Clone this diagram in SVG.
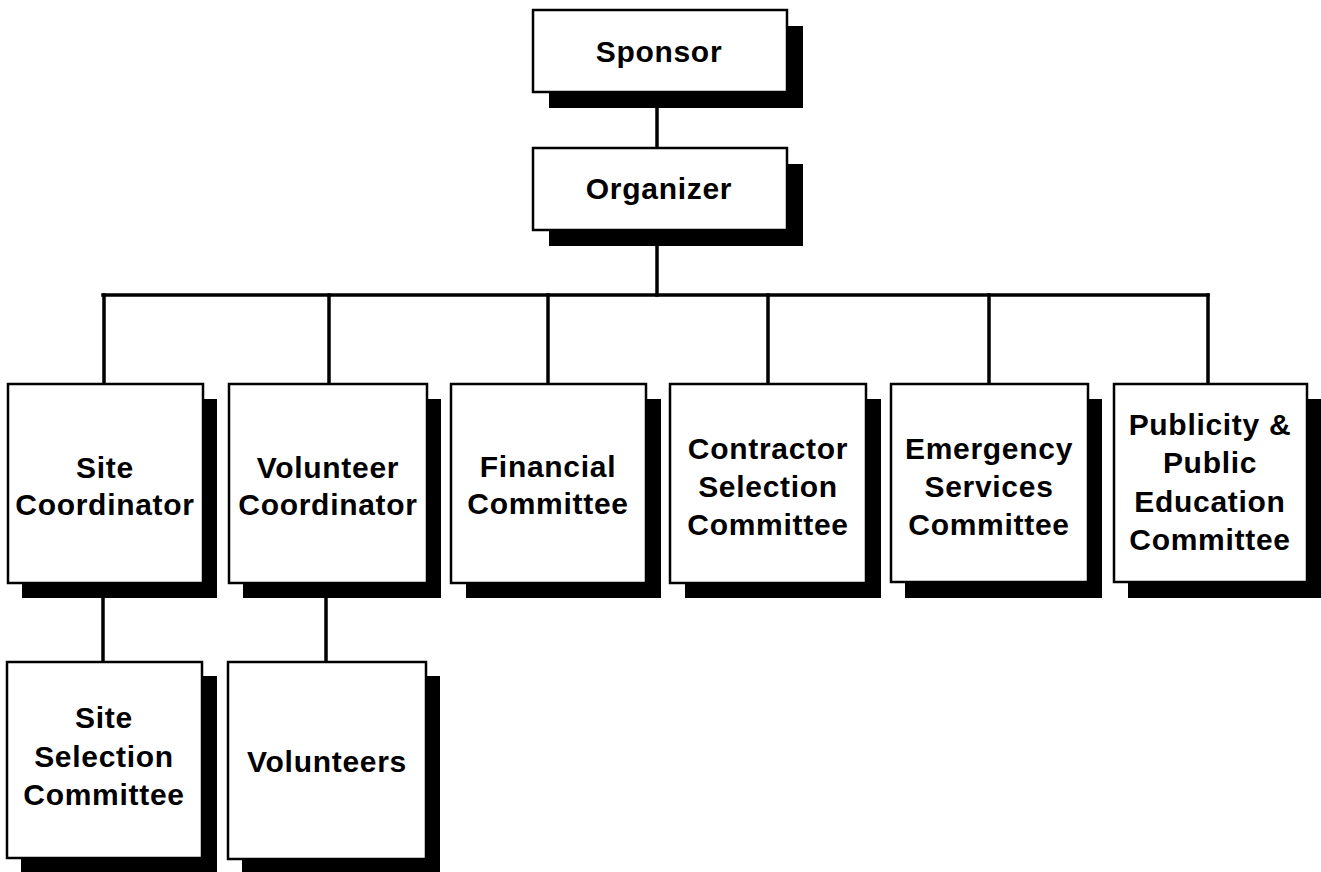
<svg xmlns="http://www.w3.org/2000/svg" width="1321" height="872" viewBox="0 0 1321 872">
  <style>
    .shadow { fill: #000; }
    .box { fill: #fff; stroke: #000; stroke-width: 2.5; }
    .label { font-family: "Liberation Sans", Arial, sans-serif; font-weight: bold; font-size: 30px; fill: #000; text-anchor: middle; letter-spacing: 0.7px; }
    .wire { stroke: #000; stroke-width: 3.5; fill: none; stroke-linecap: square; }
  </style>
  <rect width="1321" height="872" fill="#fff"/>

  <!-- connectors -->
  <g id="connectors">
    <line class="wire" x1="657" y1="92" x2="657" y2="148"/>
    <line class="wire" x1="657" y1="230" x2="657" y2="295"/>
    <line class="wire" x1="103" y1="295" x2="1208" y2="295"/>
    <line class="wire" x1="104" y1="295" x2="104" y2="384"/>
    <line class="wire" x1="329" y1="295" x2="329" y2="384"/>
    <line class="wire" x1="548" y1="295" x2="548" y2="384"/>
    <line class="wire" x1="768" y1="295" x2="768" y2="384"/>
    <line class="wire" x1="989" y1="295" x2="989" y2="384"/>
    <line class="wire" x1="1208" y1="295" x2="1208" y2="384"/>
    <line class="wire" x1="103" y1="583" x2="103" y2="662"/>
    <line class="wire" x1="326" y1="583" x2="326" y2="662"/>
  </g>

  <g id="sponsor">
    <rect class="shadow" x="549" y="26" width="254" height="82"/>
    <rect class="box" x="533" y="10" width="254" height="82"/>
    <text class="label" x="659" y="62">Sponsor</text>
  </g>

  <g id="organizer">
    <rect class="shadow" x="549" y="164" width="254" height="82"/>
    <rect class="box" x="533" y="148" width="254" height="82"/>
    <text class="label" x="659" y="199">Organizer</text>
  </g>

  <g id="site-coordinator">
    <rect class="shadow" x="22" y="399" width="195" height="199"/>
    <rect class="box" x="8" y="384" width="195" height="199"/>
    <text class="label" x="105" y="478">Site</text>
    <text class="label" x="105" y="515">Coordinator</text>
  </g>

  <g id="volunteer-coordinator">
    <rect class="shadow" x="243" y="399" width="198" height="199"/>
    <rect class="box" x="229" y="384" width="198" height="199"/>
    <text class="label" x="328" y="478">Volunteer</text>
    <text class="label" x="328" y="515">Coordinator</text>
  </g>

  <g id="financial-committee">
    <rect class="shadow" x="466" y="399" width="195" height="199"/>
    <rect class="box" x="451" y="384" width="195" height="199"/>
    <text class="label" x="548" y="477">Financial</text>
    <text class="label" x="548" y="514">Committee</text>
  </g>

  <g id="contractor-selection-committee">
    <rect class="shadow" x="685" y="399" width="196" height="199"/>
    <rect class="box" x="670" y="384" width="196" height="199"/>
    <text class="label" x="768" y="459">Contractor</text>
    <text class="label" x="768" y="497">Selection</text>
    <text class="label" x="768" y="535">Committee</text>
  </g>

  <g id="emergency-services-committee">
    <rect class="shadow" x="905" y="399" width="197" height="199"/>
    <rect class="box" x="891" y="384" width="197" height="198"/>
    <text class="label" x="989" y="459">Emergency</text>
    <text class="label" x="989" y="497">Services</text>
    <text class="label" x="989" y="535">Committee</text>
  </g>

  <g id="publicity-committee">
    <rect class="shadow" x="1128" y="399" width="193" height="199"/>
    <rect class="box" x="1114" y="384" width="193" height="198"/>
    <text class="label" x="1210" y="435">Publicity &amp;</text>
    <text class="label" x="1210" y="473">Public</text>
    <text class="label" x="1210" y="512">Education</text>
    <text class="label" x="1210" y="550">Committee</text>
  </g>

  <g id="site-selection-committee">
    <rect class="shadow" x="21" y="676" width="196" height="198"/>
    <rect class="box" x="7" y="662" width="195" height="196"/>
    <text class="label" x="104" y="728">Site</text>
    <text class="label" x="104" y="767">Selection</text>
    <text class="label" x="104" y="805">Committee</text>
  </g>

  <g id="volunteers">
    <rect class="shadow" x="242" y="676" width="198" height="198"/>
    <rect class="box" x="228" y="662" width="198" height="197"/>
    <text class="label" x="327" y="772">Volunteers</text>
  </g>
</svg>
